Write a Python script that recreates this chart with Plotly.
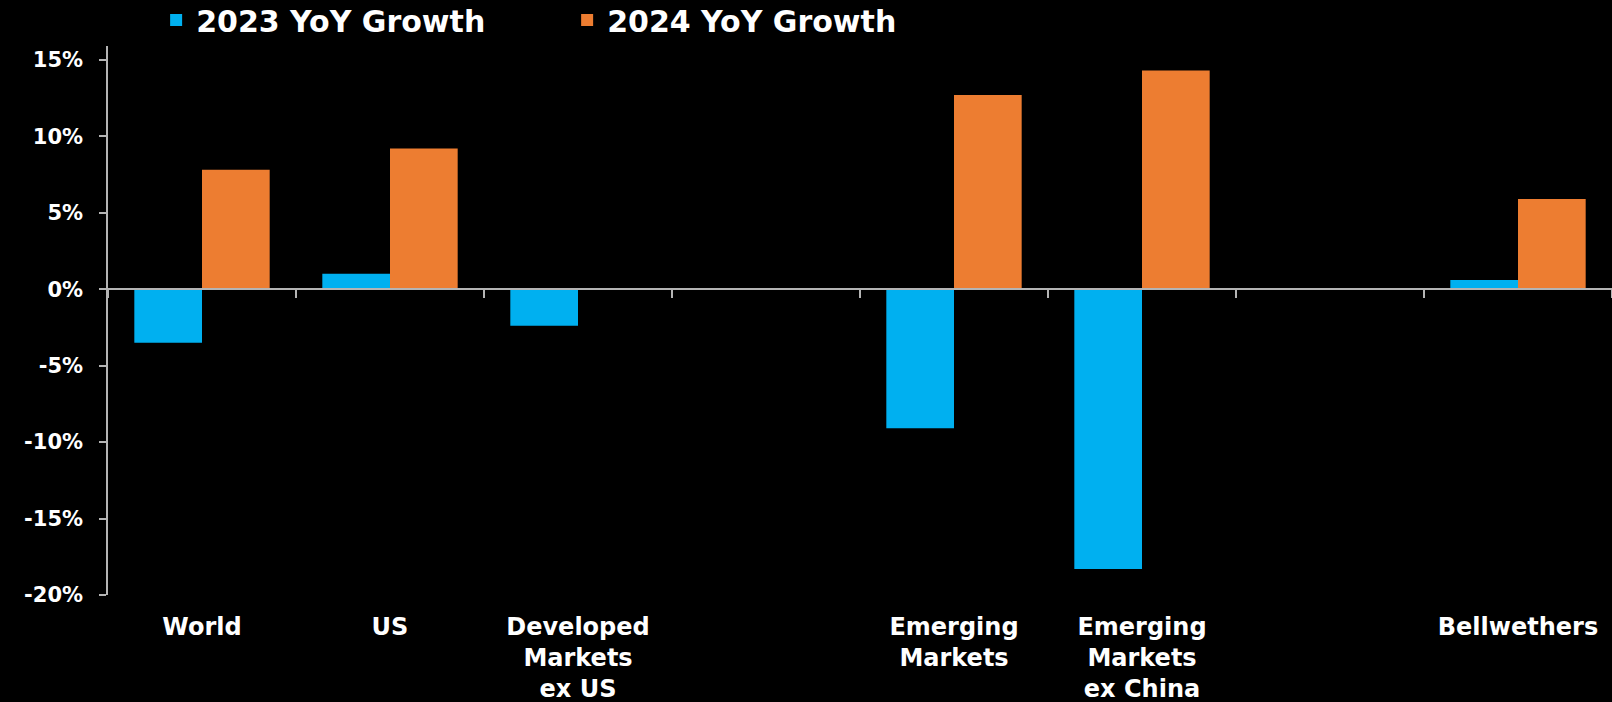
import plotly.graph_objects as go

categories = ["World", "US", "Developed<br>Markets<br>ex US", " ",
              "Emerging<br>Markets", "Emerging<br>Markets<br>ex China", "  ", "Bellwethers"]
growth_2023 = [-3.5, 1.0, -2.4, None, -9.1, -18.3, None, 0.6]
growth_2024 = [7.8, 9.2, None, None, 12.7, 14.3, None, 5.9]
series_names = ["2023 YoY Growth", "2024 YoY Growth"]
y_ticks = [-20, -15, -10, -5, 0, 5, 10, 15]
y_tick_labels = ["-20%", "-15%", "-10%", "-5%", "0%", "5%", "10%", "15%"]

BLUE = "#00B0F0"
ORANGE = "#ED7D31"
AXIS = "#B4B4B4"
FONT = "DejaVu Sans"
y_range = [-20, 15.9]

fig = go.Figure()
fig.add_trace(go.Bar(x=categories, y=growth_2023, name=series_names[0],
                     marker=dict(color=BLUE, line=dict(width=0))))
fig.add_trace(go.Bar(x=categories, y=growth_2024, name=series_names[1],
                     marker=dict(color=ORANGE, line=dict(width=0))))
# helper trace for the zero-line axis (ticks at category boundaries)
fig.add_trace(go.Scatter(x=categories, y=[0] * len(categories), xaxis="x2",
                         mode="none", showlegend=False, hoverinfo="skip"))

fig.update_layout(
    width=1612, height=702,
    paper_bgcolor="black", plot_bgcolor="black",
    margin=dict(l=108, r=0, t=46, b=107, pad=0, autoexpand=False),
    barmode="group", bargap=0.28, bargroupgap=0.0,
    font=dict(family=FONT, color="white"),
    legend=dict(orientation="h", x=0.032, xanchor="left", y=1.0, yanchor="bottom",
                font=dict(family=FONT, size=30, color="white", weight="bold"),
                entrywidth=366, entrywidthmode="pixels",
                bgcolor="rgba(0,0,0,0)", borderwidth=0,
                itemclick=False),
    xaxis=dict(type="category", categoryorder="array", categoryarray=categories,
               range=[-0.5, len(categories) - 0.5],
               showline=False, ticks="", showgrid=False, zeroline=False,
               tickfont=dict(family=FONT, size=24, color="white", weight="bold"),
               ticklabelstandoff=15),
    xaxis2=dict(type="category", categoryorder="array", categoryarray=categories,
                range=[-0.5, len(categories) - 0.5], overlaying="x", anchor="free",
                position=(0 - y_range[0]) / (y_range[1] - y_range[0]),
                showline=True, linecolor=AXIS, linewidth=2,
                ticks="outside", tickson="boundaries", ticklen=8, tickwidth=2,
                tickcolor=AXIS, showticklabels=False, showgrid=False, zeroline=False),
    yaxis=dict(range=y_range, tickmode="array", tickvals=y_ticks, ticktext=y_tick_labels,
               showline=True, linecolor=AXIS, linewidth=1.5,
               ticks="outside", ticklen=7, tickwidth=1.5, tickcolor=AXIS,
               showgrid=False, zeroline=False,
               tickfont=dict(family=FONT, size=21, color="white", weight="bold"),
               ticklabelstandoff=12),
)

fig.write_html("out.html", config={"displayModeBar": False},
               post_script="document.body.style.margin='0';document.body.style.background='black';")
